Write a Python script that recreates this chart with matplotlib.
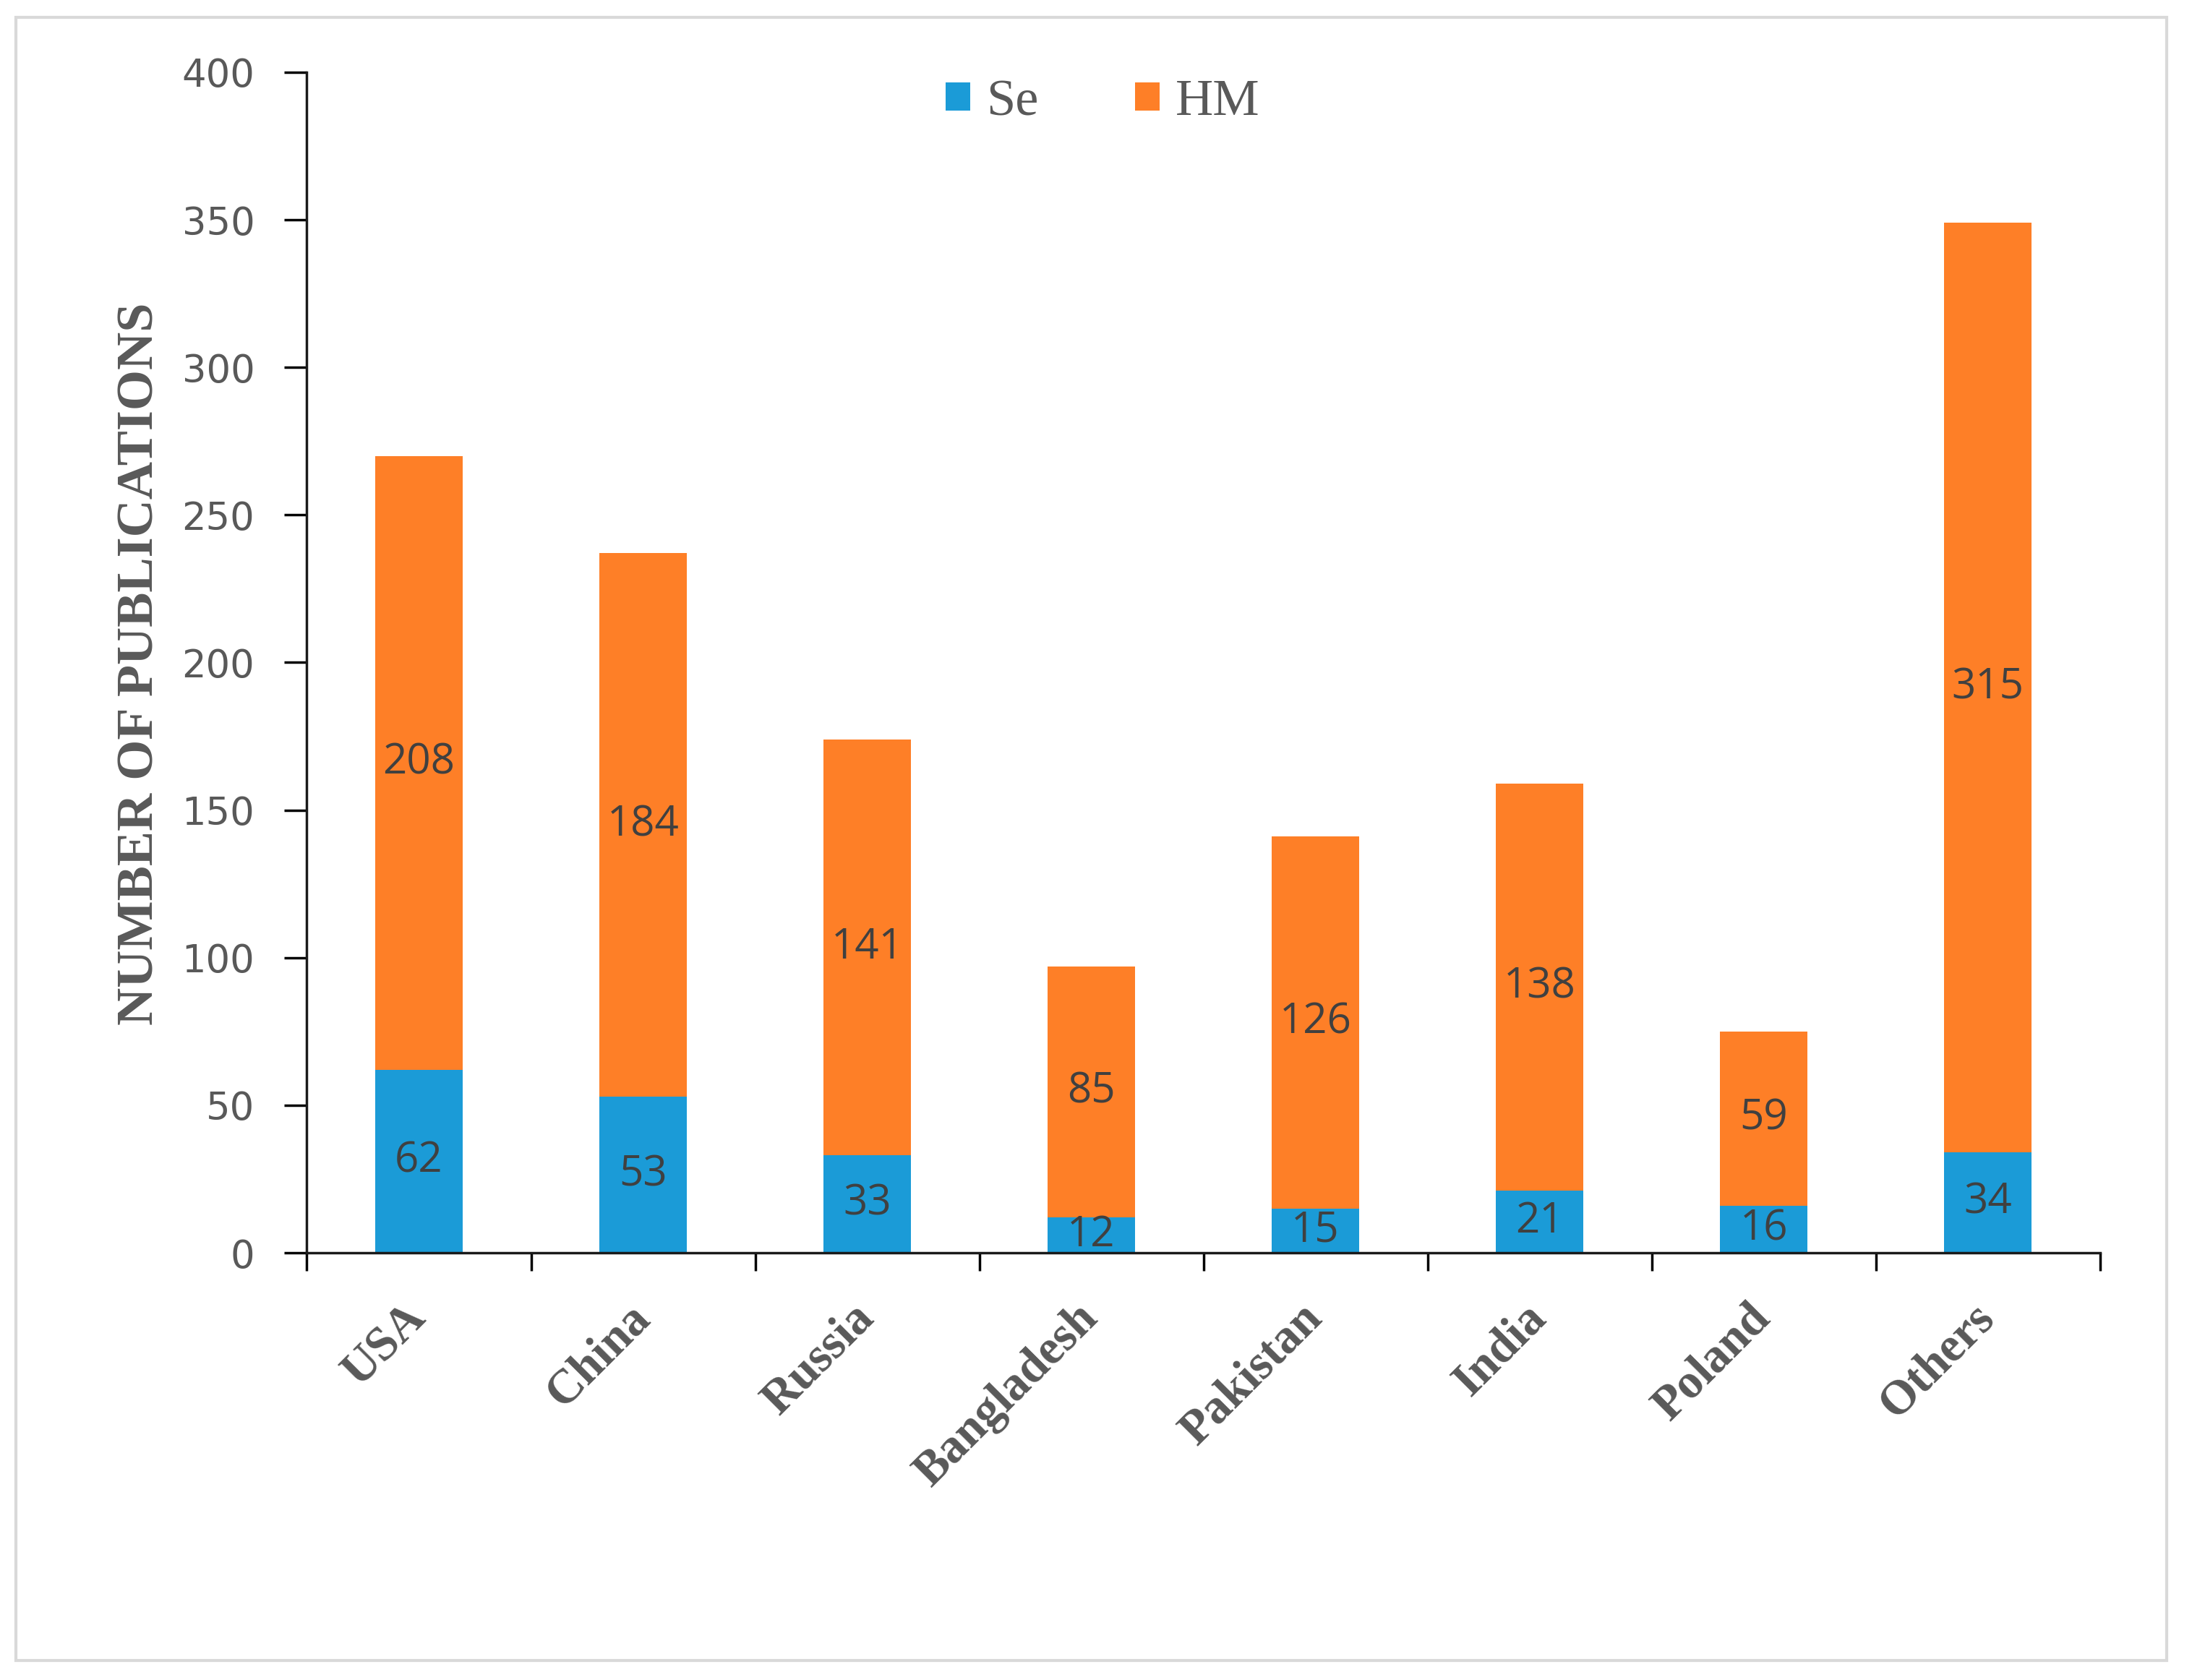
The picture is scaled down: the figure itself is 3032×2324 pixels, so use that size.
"""
Stacked bar chart: number of publications on Se and HM by country.
"""
import matplotlib
matplotlib.use('Agg')
import numpy as np
import matplotlib.pyplot as plt
from matplotlib.patches import Patch, Rectangle

# data
countries = ['USA', 'China', 'Russia', 'Bangladesh', 'Pakistan', 'India', 'Poland', 'Others']
se_counts = [62, 53, 33, 12, 15, 21, 16, 34]
hm_counts = [208, 184, 141, 85, 126, 138, 59, 315]
y_ticks = [0, 50, 100, 150, 200, 250, 300, 350, 400]

SE_COLOR = '#1B9BD7'
HM_COLOR = '#FE7F27'
TEXT_GRAY = '#595959'
LABEL_DARK = '#404040'

fig = plt.figure(figsize=(30.32, 23.24), dpi=100)
ax = fig.add_axes([0.140, 0.2543, 0.818, 0.7027])

x = np.arange(len(countries))
bar_w = 0.39
ax.bar(x, se_counts, width=bar_w, color=SE_COLOR, label='Se')
ax.bar(x, hm_counts, width=bar_w, bottom=se_counts, color=HM_COLOR, label='HM')

# value labels in the middle of each segment
for xi, s, h in zip(x, se_counts, hm_counts):
    ax.text(xi, s / 2, str(s), ha='center', va='center', fontsize=42,
            family='Open Sans', color=LABEL_DARK)
    ax.text(xi, s + h / 2, str(h), ha='center', va='center', fontsize=42,
            family='Open Sans', color=LABEL_DARK)

ax.set_xlim(-0.5, len(countries) - 0.5)
ax.set_ylim(0, 400)
ax.set_yticks(y_ticks)
ax.tick_params(axis='y', labelsize=38, labelcolor=TEXT_GRAY, length=22, width=2.5,
               pad=30, direction='out')

# ticks at the category boundaries, labels at the centres
ax.set_xticks(np.arange(len(countries) + 1) - 0.5)
ax.set_xticklabels([])
ax.tick_params(axis='x', which='major', length=18, width=2.5, direction='out')
ax.set_xticks(x, minor=True)
ax.set_xticklabels(countries, minor=True, rotation=45, ha='right', va='center',
                   rotation_mode='anchor', fontsize=48, fontweight='bold',
                   family='Liberation Serif', color=TEXT_GRAY)
ax.tick_params(axis='x', which='minor', length=0, pad=58)

for side in ['top', 'right']:
    ax.spines[side].set_visible(False)
for side in ['left', 'bottom']:
    ax.spines[side].set_linewidth(2.5)
    ax.spines[side].set_color('#1a1a1a')

fig.text(0.064, 0.605, 'NUMBER OF PUBLICATIONS', rotation=90, ha='center', va='center',
         fontsize=52, fontweight='bold', family='Liberation Serif', color=TEXT_GRAY)

handles = [Patch(facecolor=SE_COLOR, label='Se'), Patch(facecolor=HM_COLOR, label='HM')]
fig.legend(handles=handles, loc='center', bbox_to_anchor=(0.503, 0.939), ncol=2,
           frameon=False, prop={'family': 'Liberation Serif', 'size': 52},
           labelcolor=TEXT_GRAY, handlelength=0.47, handleheight=0.47,
           handletextpad=0.3, columnspacing=1.85)

# light grey frame around the whole figure
fig.patches.append(Rectangle((0.0072, 0.0116), 0.9813, 0.978, transform=fig.transFigure,
                             fill=False, edgecolor='#D9D9D9', linewidth=3))

fig.savefig('out.png', dpi=100)
